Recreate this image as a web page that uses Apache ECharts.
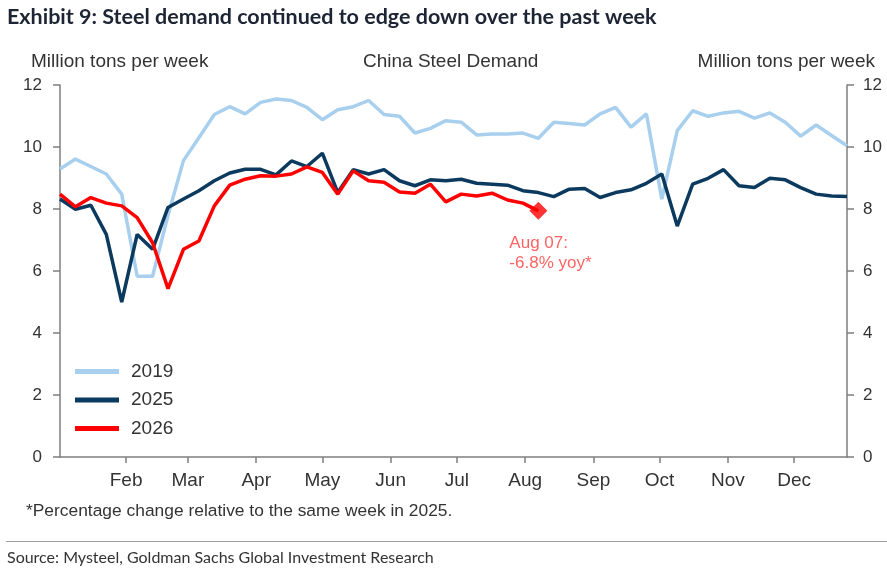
<!DOCTYPE html>
<html>
<head>
<meta charset="utf-8">
<script src="https://cdn.jsdelivr.net/npm/echarts@6/dist/echarts.min.js"></script>
<style>
html,body{margin:0;padding:0;background:#fff;}
#chart{width:887px;height:571px;}
</style>
</head>
<body>
<div id="chart"></div>
<script>
// Week-ending dates (mapped onto one calendar year)
const weeks = [
  '01-02','01-09','01-16','01-23','01-30',
  '02-06','02-13','02-20','02-27',
  '03-06','03-13','03-20','03-27',
  '04-03','04-10','04-17','04-24',
  '05-01','05-08','05-15','05-22','05-29',
  '06-05','06-12','06-19','06-26',
  '07-03','07-10','07-17','07-24','07-31',
  '08-07','08-14','08-21','08-28',
  '09-04','09-11','09-18','09-25',
  '10-02','10-09','10-16','10-23','10-30',
  '11-06','11-13','11-20','11-27',
  '12-04','12-11','12-18','12-25'
];
const monthLabels = ['Feb','Mar','Apr','May','Jun','Jul','Aug','Sep','Oct','Nov','Dec'];
const monthStarts = ['02-01','03-01','04-01','05-01','06-01','07-01','08-01','09-01','10-01','11-01','12-01'];
const yTicks = [0, 2, 4, 6, 8, 10, 12];

const s2019 = [9.29,9.61,9.37,9.13,8.48,5.83,5.83,7.8,9.56,10.3,11.05,11.3,11.07,11.44,11.55,11.5,
  11.28,10.88,11.2,11.3,11.5,11.05,10.99,10.45,10.6,10.85,10.8,10.39,10.42,10.42,10.45,10.28,
  10.8,10.76,10.71,11.07,11.28,10.64,11.07,8.32,10.53,11.17,10.99,11.1,11.15,10.93,11.1,10.8,
  10.35,10.71,10.37,10.04];
const s2025 = [8.32,7.99,8.12,7.18,5.0,7.18,6.7,8.05,8.32,8.59,8.91,9.16,9.28,9.28,9.1,9.55,
  9.37,9.8,8.53,9.27,9.13,9.27,8.91,8.75,8.94,8.91,8.96,8.83,8.8,8.77,8.59,8.53,
  8.4,8.64,8.66,8.37,8.53,8.62,8.83,9.13,7.45,8.8,8.99,9.27,8.75,8.69,8.99,8.94,
  8.69,8.48,8.42,8.4];
const s2026 = [8.48,8.07,8.37,8.19,8.1,7.72,6.91,5.43,6.7,6.97,8.1,8.77,8.96,9.07,9.06,9.13,
  9.36,9.18,8.48,9.23,8.91,8.86,8.55,8.51,8.8,8.23,8.48,8.42,8.51,8.29,8.19,7.94];
const lastLabel = 'Aug 07:';
const lastYoy = '-6.8% yoy*';

function dayOfYear(md) {
  const [m, d] = md.split('-').map(Number);
  return (Date.UTC(2026, m - 1, d) - Date.UTC(2026, 0, 1)) / 86400000;
}
const xDays = weeks.map(dayOfYear);
const tickDays = monthStarts.map(dayOfYear);
const pair = arr => arr.map((v, i) => [xDays[i], v]);
const lastIdx = s2026.length - 1;

const FONT = "'Liberation Sans', Arial, sans-serif";
const AXC = '#7f7f7f';
const TXT = '#333333';

const chart = echarts.init(document.getElementById('chart'), null, {renderer: 'canvas'});
chart.setOption({
  backgroundColor: '#ffffff',
  animation: false,
  title: [
    {text: 'Exhibit 9: Steel demand continued to edge down over the past week', left: 7, top: 6, padding: 0,
      textStyle: {fontFamily: 'Lato', fontWeight: 'bold', fontSize: 21.5, color: '#1d2433'}},
    {text: 'Million tons per week', left: 31, top: 52, padding: 0,
      textStyle: {fontFamily: FONT, fontWeight: 'normal', fontSize: 19, color: TXT}},
    {text: 'China Steel Demand', left: 363, top: 52, padding: 0,
      textStyle: {fontFamily: FONT, fontWeight: 'normal', fontSize: 19, color: TXT}},
    {text: 'Million tons per week', right: 12, top: 52, padding: 0,
      textStyle: {fontFamily: FONT, fontWeight: 'normal', fontSize: 19, color: TXT}},
    {text: '*Percentage change relative to the same week in 2025.', left: 26, top: 503, padding: 0,
      textStyle: {fontFamily: FONT, fontWeight: 'normal', fontSize: 17.4, color: TXT}},
    {text: 'Source: Mysteel, Goldman Sachs Global Investment Research', left: 7, top: 550, padding: 0,
      textStyle: {fontFamily: 'Lato', fontWeight: 'normal', fontSize: 16, color: '#333'}}
  ],
  graphic: [
    {type: 'line', shape: {x1: 6, y1: 541.5, x2: 887, y2: 541.5},
      style: {stroke: '#a0a0a0', lineWidth: 1.2}, silent: true}
  ],
  legend: {
    data: ['2019', '2025', '2026'],
    orient: 'vertical', left: 75, top: 362,
    icon: 'rect', itemWidth: 44, itemHeight: 5, itemGap: 9.5,
    textStyle: {fontFamily: FONT, fontSize: 19, color: TXT, padding: [0, 0, 0, 7]},
    padding: 0
  },
  grid: {left: 60, right: 40, top: 85, bottom: 114, containLabel: false},
  xAxis: {
    type: 'value', min: xDays[0], max: xDays[xDays.length - 1],
    splitLine: {show: false},
    axisLine: {show: true, lineStyle: {color: AXC, width: 1.5}},
    axisTick: {show: true, customValues: tickDays, length: 6, lineStyle: {color: AXC, width: 1.5}},
    axisLabel: {customValues: tickDays, margin: 14.5, fontFamily: FONT, fontSize: 19, color: TXT,
      formatter: v => monthLabels[tickDays.indexOf(v)] || ''}
  },
  yAxis: [
    {type: 'value', min: 0, max: 12, interval: 2, position: 'left',
      splitLine: {show: false},
      axisLine: {show: true, lineStyle: {color: AXC, width: 1.5}},
      axisTick: {show: true, length: 7, lineStyle: {color: AXC, width: 1.5}},
      axisLabel: {margin: 18, fontFamily: FONT, fontSize: 17, color: TXT,
        formatter: v => yTicks.includes(v) ? String(v) : ''}},
    {type: 'value', min: 0, max: 12, interval: 2, position: 'right',
      splitLine: {show: false},
      axisLine: {show: true, lineStyle: {color: AXC, width: 1.5}},
      axisTick: {show: true, length: 7, lineStyle: {color: AXC, width: 1.5}},
      axisLabel: {margin: 16, fontFamily: FONT, fontSize: 17, color: TXT,
        formatter: v => yTicks.includes(v) ? String(v) : ''}}
  ],
  series: [
    {name: '2019', type: 'line', data: pair(s2019), showSymbol: false, symbol: 'none',
      itemStyle: {color: '#a8d0ee'}, lineStyle: {color: '#a8d0ee', width: 3.5}, z: 2},
    {name: '2025', type: 'line', data: pair(s2025), showSymbol: false, symbol: 'none',
      itemStyle: {color: '#0c3a5e'}, lineStyle: {color: '#0c3a5e', width: 3.5}, z: 3},
    {name: '2026', type: 'line', data: pair(s2026), showSymbol: false, symbol: 'none',
      itemStyle: {color: '#ff0000'}, lineStyle: {color: '#ff0000', width: 3.5}, z: 4},
    {name: 'last', type: 'scatter', data: [[xDays[lastIdx], s2026[lastIdx]]],
      symbol: 'diamond', symbolSize: 18, itemStyle: {color: '#ff0000'}, z: 5,
      label: {show: true, position: [-20, 31], align: 'left', verticalAlign: 'top',
        formatter: lastLabel + '\n' + lastYoy, fontFamily: FONT, fontSize: 17, lineHeight: 20,
        color: '#ff3b3b'}}
  ]
});
</script>
</body>
</html>
